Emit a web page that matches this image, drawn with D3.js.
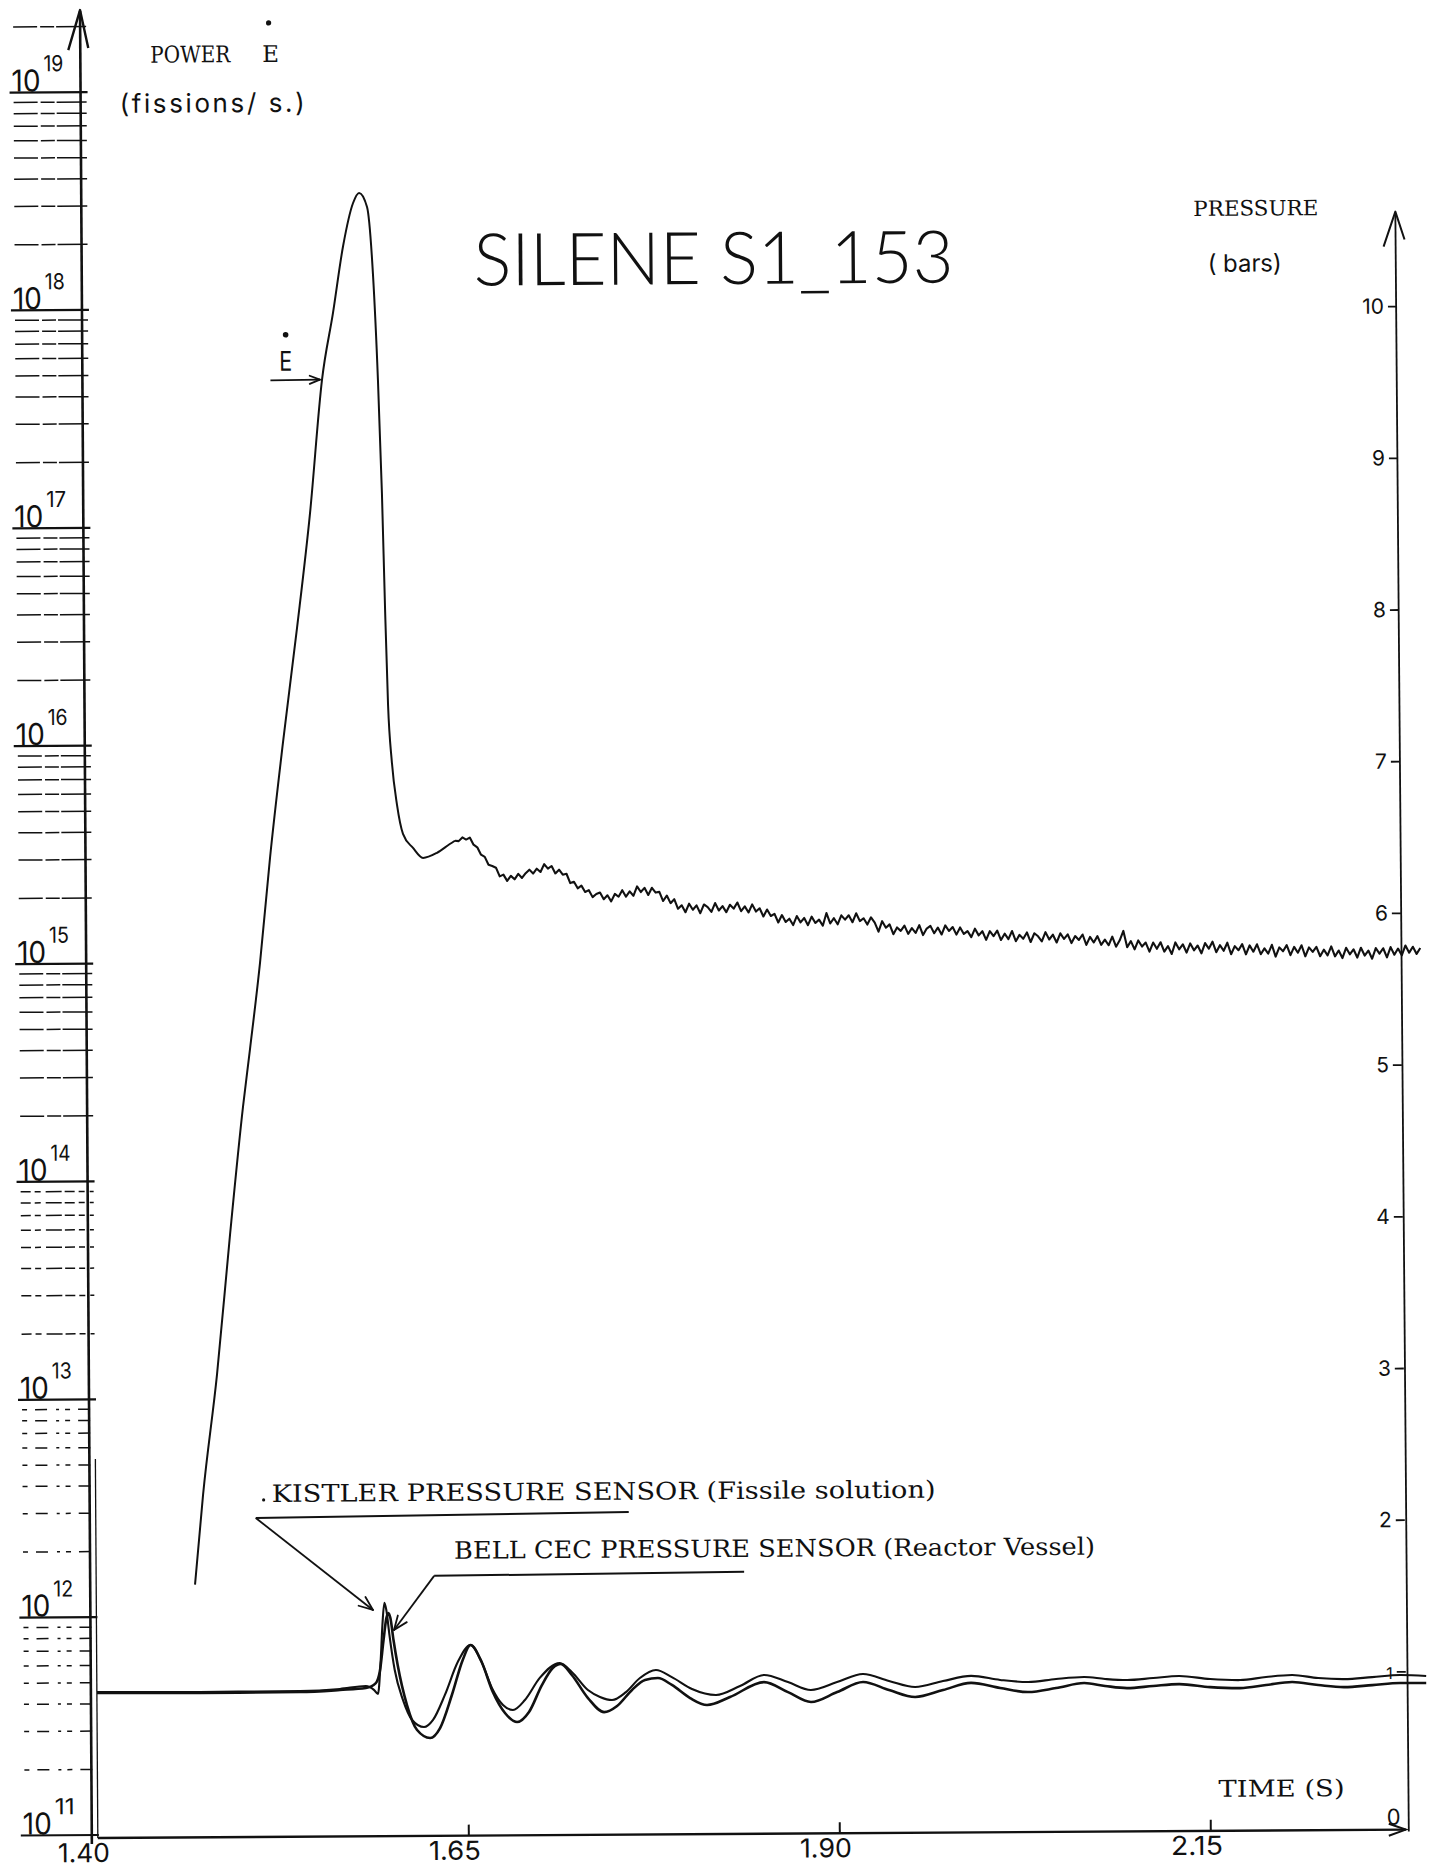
<!DOCTYPE html>
<html><head><meta charset="utf-8">
<script src="https://cdn.jsdelivr.net/npm/d3@7"></script>
<style>
html,body{margin:0;padding:0;background:#fff;}
svg{display:block;}
.tw{font-family:"DejaVu Serif","Liberation Serif",serif;fill:#111;}
.hw{font-family:Inter,Lato,"DejaVu Sans",sans-serif;fill:#111;}
.ttl{font-family:Lato,"Open Sans","DejaVu Sans",sans-serif;fill:#111;}
</style></head><body>
<svg id="chart" width="1437" height="1869"></svg>
<script>
// ---------------- data ----------------
const decadeExponents = [11, 12, 13, 14, 15, 16, 17, 18, 19];
const timeTicks = [1.40, 1.65, 1.90, 2.15];
const pressureTicks = [0, 1, 2, 3, 4, 5, 6, 7, 8, 9, 10];

// power E-dot : [time (s), log10(fissions/s)]  (rise, peak, fall)
const powerRise = [
 [1.4666,12.146],[1.4724,12.558],[1.4823,13.108],[1.4917,13.751],[1.5010,14.338],
 [1.5060,14.604],[1.5131,14.998],[1.5203,15.480],[1.5295,16.007],[1.5395,16.534],
 [1.5487,17.057],[1.5574,17.672],[1.5651,17.979],[1.5722,18.286],[1.5791,18.483],
 [1.5832,18.529],[1.5885,18.464],[1.5922,18.156],[1.5951,17.670],[1.5973,17.147],
 [1.5989,16.619],[1.6005,16.178],[1.6028,15.917],[1.6061,15.719],[1.6100,15.586],
 [1.6167,15.521],[1.6234,15.475],[1.6328,15.498],[1.6415,15.538],[1.6450,15.553]
];
// noisy tail of the power trace : [time (s), log10(fissions/s)]
const powerTail = [
 [1.6450,15.553],[1.6475,15.551],[1.6500,15.568],[1.6525,15.558],[1.6550,15.567],[1.6575,15.534],[1.6600,15.522],[1.6625,15.488],
 [1.6650,15.478],[1.6675,15.442],[1.6700,15.436],[1.6725,15.428],[1.6750,15.388],[1.6775,15.396],[1.6800,15.367],[1.6825,15.390],
 [1.6850,15.374],[1.6875,15.399],[1.6900,15.380],[1.6925,15.402],[1.6950,15.418],[1.6975,15.400],[1.7000,15.422],[1.7025,15.407],
 [1.7050,15.443],[1.7075,15.422],[1.7100,15.434],[1.7125,15.400],[1.7150,15.417],[1.7175,15.394],[1.7200,15.398],[1.7225,15.355],
 [1.7250,15.361],[1.7275,15.331],[1.7300,15.343],[1.7325,15.314],[1.7350,15.322],[1.7375,15.290],[1.7400,15.304],[1.7425,15.311],
 [1.7450,15.280],[1.7475,15.298],[1.7500,15.270],[1.7525,15.304],[1.7550,15.291],[1.7575,15.321],[1.7600,15.291],[1.7625,15.315],
 [1.7650,15.295],[1.7675,15.338],[1.7700,15.312],[1.7725,15.331],[1.7750,15.298],[1.7775,15.331],[1.7800,15.309],[1.7825,15.312],
 [1.7850,15.270],[1.7875,15.295],[1.7900,15.260],[1.7925,15.278],[1.7950,15.234],[1.7975,15.250],[1.8000,15.218],[1.8025,15.257],
 [1.8050,15.229],[1.8075,15.249],[1.8100,15.213],[1.8125,15.253],[1.8150,15.241],[1.8175,15.219],[1.8200,15.259],[1.8225,15.225],
 [1.8250,15.245],[1.8275,15.217],[1.8300,15.251],[1.8325,15.233],[1.8350,15.261],[1.8375,15.221],[1.8400,15.243],[1.8425,15.215],
 [1.8450,15.252],[1.8475,15.219],[1.8500,15.234],[1.8525,15.196],[1.8550,15.228],[1.8575,15.198],[1.8600,15.208],[1.8625,15.168],
 [1.8650,15.202],[1.8675,15.170],[1.8700,15.185],[1.8725,15.156],[1.8750,15.197],[1.8775,15.168],[1.8800,15.188],[1.8825,15.155],
 [1.8850,15.194],[1.8875,15.165],[1.8900,15.180],[1.8925,15.152],[1.8950,15.210],[1.8975,15.162],[1.9000,15.186],[1.9025,15.158],
 [1.9050,15.199],[1.9075,15.179],[1.9100,15.199],[1.9125,15.167],[1.9150,15.208],[1.9175,15.172],[1.9200,15.185],[1.9225,15.156],
 [1.9250,15.189],[1.9275,15.165],[1.9300,15.123],[1.9325,15.171],[1.9350,15.141],[1.9375,15.156],[1.9400,15.111],[1.9425,15.142],
 [1.9450,15.126],[1.9475,15.150],[1.9500,15.112],[1.9525,15.138],[1.9550,15.116],[1.9575,15.152],[1.9600,15.106],[1.9625,15.136],
 [1.9650,15.148],[1.9675,15.114],[1.9700,15.140],[1.9725,15.108],[1.9750,15.150],[1.9775,15.124],[1.9800,15.142],[1.9825,15.107],
 [1.9850,15.140],[1.9875,15.110],[1.9900,15.123],[1.9925,15.095],[1.9950,15.134],[1.9975,15.103],[2.0000,15.122],[2.0025,15.082],
 [2.0050,15.122],[2.0075,15.099],[2.0100,15.124],[2.0125,15.081],[2.0150,15.110],[2.0175,15.085],[2.0200,15.122],[2.0225,15.075],
 [2.0250,15.104],[2.0275,15.086],[2.0300,15.115],[2.0325,15.071],[2.0350,15.111],[2.0375,15.097],[2.0400,15.074],[2.0425,15.116],
 [2.0450,15.082],[2.0475,15.104],[2.0500,15.068],[2.0525,15.110],[2.0550,15.084],[2.0575,15.105],[2.0600,15.065],[2.0625,15.097],
 [2.0650,15.079],[2.0675,15.104],[2.0700,15.056],[2.0725,15.093],[2.0750,15.067],[2.0775,15.096],[2.0800,15.056],[2.0825,15.080],
 [2.0850,15.054],[2.0875,15.093],[2.0900,15.047],[2.0925,15.076],[2.0950,15.119],[2.0975,15.044],[2.1000,15.072],[2.1025,15.034],
 [2.1050,15.075],[2.1075,15.047],[2.1100,15.065],[2.1125,15.023],[2.1150,15.065],[2.1175,15.036],[2.1200,15.066],[2.1225,15.023],
 [2.1250,15.048],[2.1275,15.012],[2.1300,15.065],[2.1325,15.033],[2.1350,15.056],[2.1375,15.018],[2.1400,15.060],[2.1425,15.028],
 [2.1450,15.050],[2.1475,15.014],[2.1500,15.061],[2.1525,15.035],[2.1550,15.067],[2.1575,15.019],[2.1600,15.051],[2.1625,15.025],
 [2.1650,15.062],[2.1675,15.009],[2.1700,15.046],[2.1725,15.027],[2.1750,15.055],[2.1775,15.008],[2.1800,15.049],[2.1825,15.020],
 [2.1850,15.054],[2.1875,15.008],[2.1900,15.035],[2.1925,15.011],[2.1950,15.051],[2.1975,14.997],[2.2000,15.039],[2.2025,15.021],
 [2.2050,15.049],[2.2075,15.003],[2.2100,15.041],[2.2125,15.014],[2.2150,15.048],[2.2175,14.997],[2.2200,15.038],[2.2225,15.017],
 [2.2250,15.040],[2.2275,14.997],[2.2300,15.027],[2.2325,15.001],[2.2350,15.042],[2.2375,14.996],[2.2400,15.023],[2.2425,14.988],
 [2.2450,15.035],[2.2475,15.005],[2.2500,15.028],[2.2525,14.990],[2.2550,15.035],[2.2575,14.999],[2.2600,15.022],[2.2625,14.984],
 [2.2650,15.033],[2.2675,15.007],[2.2700,15.032],[2.2725,14.990],[2.2750,15.037],[2.2775,15.002],[2.2800,15.030],[2.2825,14.999],
 [2.2850,15.044],[2.2875,15.011],[2.2900,15.038],[2.2925,15.005],[2.2950,15.032]
];
// Kistler pressure sensor (fissile solution) : [time (s), bar]
const kistlerPressure = [
 [1.4001,0.923],[1.4695,0.919],[1.5369,0.921],[1.5638,0.933],[1.5813,0.951],[1.5867,0.925],[1.5894,0.898],[1.5914,1.123],
 [1.5927,1.353],[1.5941,1.498],[1.5954,1.451],[1.5974,1.286],[1.6008,1.055],[1.6062,0.858],[1.6123,0.725],[1.6203,0.678],
 [1.6264,0.725],[1.6345,0.889],[1.6433,1.105],[1.6520,1.217],[1.6588,1.117],[1.6662,0.933],[1.6736,0.820],[1.6803,0.787],
 [1.6884,0.852],[1.6985,0.997],[1.7120,1.094],[1.7201,1.035],[1.7309,0.915],[1.7390,0.869],[1.7471,0.848],[1.7565,0.900],
 [1.7660,0.992],[1.7768,1.044],[1.7875,0.997],[1.8010,0.918],[1.8172,0.877],[1.8334,0.935],[1.8496,1.007],[1.8657,0.959],
 [1.8812,0.906],[1.8988,0.957],[1.9163,1.009],[1.9338,0.962],[1.9514,0.921],[1.9702,0.959],[1.9891,0.992],[2.0087,0.964],
 [2.0275,0.949],[2.0464,0.968],[2.0653,0.980],[2.0794,0.966],[2.0943,0.958],[2.1118,0.970],[2.1293,0.982],[2.1502,0.961],
 [2.1704,0.953],[2.1879,0.972],[2.2054,0.984],[2.2230,0.963],[2.2405,0.955],[2.2594,0.967],[2.2782,0.980],[2.2958,0.972]
];
// Bell CEC pressure sensor (reactor vessel) : [time (s), bar]
const bellPressure = [
 [1.4001,0.916],[1.4695,0.912],[1.5369,0.914],[1.5638,0.926],[1.5813,0.938],[1.5880,0.970],[1.5907,1.044],[1.5934,1.254],
 [1.5954,1.398],[1.5968,1.431],[1.5981,1.398],[1.6001,1.253],[1.6028,1.088],[1.6089,0.824],[1.6156,0.659],[1.6244,0.606],
 [1.6311,0.671],[1.6392,0.888],[1.6466,1.117],[1.6520,1.217],[1.6594,1.104],[1.6668,0.906],[1.6749,0.767],[1.6830,0.707],
 [1.6911,0.773],[1.6999,0.950],[1.7073,1.062],[1.7127,1.088],[1.7201,1.015],[1.7309,0.862],[1.7417,0.769],[1.7505,0.809],
 [1.7606,0.914],[1.7694,0.979],[1.7781,0.991],[1.7875,0.945],[1.7997,0.858],[1.8111,0.811],[1.8266,0.863],[1.8496,0.960],
 [1.8657,0.893],[1.8812,0.827],[1.8988,0.891],[1.9163,0.956],[1.9338,0.902],[1.9514,0.855],[1.9702,0.900],[1.9891,0.946],
 [2.0087,0.911],[2.0275,0.883],[2.0464,0.908],[2.0653,0.940],[2.0794,0.920],[2.0943,0.905],[2.1118,0.918],[2.1293,0.929],
 [2.1502,0.908],[2.1704,0.900],[2.1879,0.919],[2.2054,0.938],[2.2230,0.917],[2.2405,0.902],[2.2594,0.914],[2.2782,0.927],
 [2.2958,0.926]
];
// annotation anchors (data coordinates)
const edotArrowTip = [1.5560, 17.673];          // [time, log10 power]
const kistlerArrowTip = [1.5864, 1.452];        // [time, bar]
const bellArrowTip = [1.6005, 1.319];           // [time, bar]

// ---------------- drawing ----------------
const ink = "#111";
const svg = d3.select("#chart");
svg.append("rect").attr("width",1437).attr("height",1869).attr("fill","#fff");
const g = svg.append("g").attr("transform","rotate(-0.37 718 934)");

const x = d3.scaleLinear().domain([1.40, 2.15]).range([92, 1205]);
const yPow = d3.scaleLog().domain([1e11, 1e19]).range([1831, 88]);
const yBar = d3.scaleLinear().domain([0, 10]).range([1828, 311]);

function arrow(sel, x1, y1, x2, y2, len, sw){
  sel.append("line").attr("x1",x1).attr("y1",y1).attr("x2",x2).attr("y2",y2)
    .attr("stroke",ink).attr("stroke-width",sw);
  const a = Math.atan2(y2-y1, x2-x1), s = 0.38;
  [a+Math.PI-s, a+Math.PI+s].forEach(b=>{
    sel.append("line").attr("x1",x2).attr("y1",y2)
      .attr("x2",x2+len*Math.cos(b)).attr("y2",y2+len*Math.sin(b))
      .attr("stroke",ink).attr("stroke-width",sw).attr("stroke-linecap","round");
  });
}

// log grid lines on the left
const grid = [];
decadeExponents.forEach(e=>{
  grid.push({e, m:1, v:Math.pow(10,e)});
  const ms = e < 19 ? [2,3,4,5,6,7,8,9] : [2];
  ms.forEach(m=>grid.push({e, m, v:m*Math.pow(10,e)}));
});
g.selectAll(".grid").data(grid).join("line").attr("class","grid")
  .attr("x1", d=>d.m===1?15:19).attr("x2", d=>d.m===1?93:92)
  .attr("y1", d=>yPow(d.v)).attr("y2", d=>yPow(d.v))
  .attr("stroke", ink).attr("stroke-width", d=>d.m===1?2.2:1.5)
  .attr("stroke-dasharray", d=>d.m===1?null:(d.e>=14?"24,3,14,2,30,3":(d.e===13?"10,4,6,5,16,3":"5,8,12,9,3,6")));

// decade labels 10^n
g.selectAll(".dec10").data(decadeExponents).join("text").attr("class","hw dec10")
  .attr("x",17).attr("y",d=>yPow(Math.pow(10,d))-1)
  .attr("font-size",30).attr("textLength",29).attr("lengthAdjust","spacingAndGlyphs")
  .text("10");
g.selectAll(".decExp").data(decadeExponents).join("text").attr("class","hw decExp")
  .attr("x",49).attr("y",d=>yPow(Math.pow(10,d))-21)
  .attr("font-size",22).attr("textLength",20).attr("lengthAdjust","spacingAndGlyphs")
  .text(d=>d);

// left (power) axis with arrow
g.append("line").attr("x1",86).attr("y1",7).attr("x2",86).attr("y2",1840)
  .attr("stroke",ink).attr("stroke-width",2.6);
g.append("path").attr("d","M74,46 L86,6 L94,44").attr("fill","none")
  .attr("stroke",ink).attr("stroke-width",2.4).attr("stroke-linejoin","round");
// secondary thin vertical line of the pressure recorder
g.append("line").attr("x1",92).attr("y1",1455).attr("x2",92).attr("y2",1834)
  .attr("stroke",ink).attr("stroke-width",1.3);

// time axis
g.append("line").attr("x1",92).attr("y1",1834).attr("x2",1400).attr("y2",1834)
  .attr("stroke",ink).attr("stroke-width",2.4);
g.append("path").attr("d","M1383,1828 L1400,1834 L1383,1840").attr("fill","none")
  .attr("stroke",ink).attr("stroke-width",2);
g.selectAll(".ttick").data(timeTicks.filter(t=>t>1.40)).join("line").attr("class","ttick")
  .attr("x1",d=>x(d)).attr("x2",d=>x(d)).attr("y1",1823).attr("y2",1834)
  .attr("stroke",ink).attr("stroke-width",2);
g.selectAll(".tlab").data(timeTicks).join("text").attr("class","hw tlab")
  .attr("x",d=>x(d)-14).attr("y",1858).attr("text-anchor","middle")
  .attr("font-size",26).attr("textLength",52).attr("lengthAdjust","spacingAndGlyphs")
  .text(d=>d.toFixed(2));
g.append("text").attr("class","tw").attr("x",1213).attr("y",1800)
  .attr("font-size",23).attr("textLength",126).attr("lengthAdjust","spacingAndGlyphs")
  .text("TIME (S)");

// right (pressure) axis
g.append("line").attr("x1",1400).attr("y1",218).attr("x2",1403).attr("y2",1836)
  .attr("stroke",ink).attr("stroke-width",1.8);
g.append("path").attr("d","M1388,251 L1400,216 L1409,244").attr("fill","none")
  .attr("stroke",ink).attr("stroke-width",2).attr("stroke-linejoin","round");
g.selectAll(".ptick").data(pressureTicks.filter(v=>v>0)).join("line").attr("class","ptick")
  .attr("x1",1392).attr("x2",1401).attr("y1",d=>yBar(d)).attr("y2",d=>yBar(d))
  .attr("stroke",ink).attr("stroke-width",1.8);
g.selectAll(".plab").data(pressureTicks).join("text").attr("class","hw plab")
  .attr("x",d=>d===0?1381:1388).attr("y",d=>d===0?yBar(d)+1:yBar(d)+7)
  .attr("text-anchor",d=>d===0?"start":"end")
  .attr("font-size",d=>d===0?22:(d===1?16:21))
  .text(d=>d);

// axis titles
g.append("text").attr("class","tw").attr("x",156).attr("y",59)
  .attr("font-size",23).attr("textLength",80).attr("lengthAdjust","spacingAndGlyphs").text("POWER");
g.append("text").attr("class","tw").attr("x",268).attr("y",59)
  .attr("font-size",23).text("E");
g.append("circle").attr("cx",274.5).attr("cy",20).attr("r",2.6).attr("fill",ink);
g.append("text").attr("class","hw").attr("x",125).attr("y",109)
  .attr("font-size",26).attr("textLength",185).attr("lengthAdjust","spacing").text("(fissions/ s.)");
g.append("text").attr("class","tw").attr("x",1198).attr("y",219)
  .attr("font-size",21).attr("textLength",125).attr("lengthAdjust","spacingAndGlyphs").text("PRESSURE");
g.append("text").attr("class","hw").attr("x",1212).attr("y",275)
  .attr("font-size",24).attr("textLength",74).attr("lengthAdjust","spacing").text("( bars)");

// title
g.append("text").attr("class","ttl").attr("x",478).attr("y",284)
  .attr("font-size",73).attr("font-weight",300)
  .attr("textLength",480).attr("lengthAdjust","spacingAndGlyphs").text("SILENE S1_153");

// power curve
const powLine = d3.line().x(d=>x(d[0])).y(d=>yPow(Math.pow(10,d[1])));
g.append("path").datum(powerRise).attr("d",powLine.curve(d3.curveMonotoneX))
  .attr("fill","none").attr("stroke",ink).attr("stroke-width",2);
g.append("path").datum(powerTail).attr("d",powLine.curve(d3.curveLinear))
  .attr("fill","none").attr("stroke",ink).attr("stroke-width",2.1).attr("stroke-linejoin","round");

// pressure curves
const pLine = d3.line().x(d=>x(d[0])).y(d=>yBar(d[1])).curve(d3.curveMonotoneX);
g.append("path").datum(kistlerPressure).attr("d",pLine)
  .attr("fill","none").attr("stroke",ink).attr("stroke-width",2.1);
g.append("path").datum(bellPressure).attr("d",pLine)
  .attr("fill","none").attr("stroke",ink).attr("stroke-width",2.6);

// E-dot annotation
g.append("text").attr("class","hw").attr("x",283).attr("y",368)
  .attr("font-size",27).attr("textLength",13).attr("lengthAdjust","spacingAndGlyphs").text("E");
g.append("circle").attr("cx",289.5).attr("cy",332).attr("r",2.8).attr("fill",ink);
arrow(g, 274, 377.5, x(edotArrowTip[0]), yPow(Math.pow(10,edotArrowTip[1])), 11, 1.8);

// sensor annotations
g.append("circle").attr("cx",260).attr("cy",1497).attr("r",1.6).attr("fill",ink);
g.append("text").attr("class","tw").attr("x",268).attr("y",1499)
  .attr("font-size",24).attr("textLength",664).attr("lengthAdjust","spacingAndGlyphs")
  .text("KISTLER PRESSURE SENSOR (Fissile solution)");
g.append("line").attr("x1",252).attr("y1",1515).attr("x2",625).attr("y2",1511.5)
  .attr("stroke",ink).attr("stroke-width",2);
arrow(g, 252, 1515, x(kistlerArrowTip[0]), yBar(kistlerArrowTip[1]), 15, 1.8);

g.append("text").attr("class","tw").attr("x",450).attr("y",1557)
  .attr("font-size",24).attr("textLength",641).attr("lengthAdjust","spacingAndGlyphs")
  .text("BELL CEC PRESSURE SENSOR (Reactor Vessel)");
g.append("line").attr("x1",430).attr("y1",1574).attr("x2",740).attr("y2",1572)
  .attr("stroke",ink).attr("stroke-width",2);
arrow(g, 430, 1574, x(bellArrowTip[0]), yBar(bellArrowTip[1]), 15, 1.8);
</script>
</body></html>
